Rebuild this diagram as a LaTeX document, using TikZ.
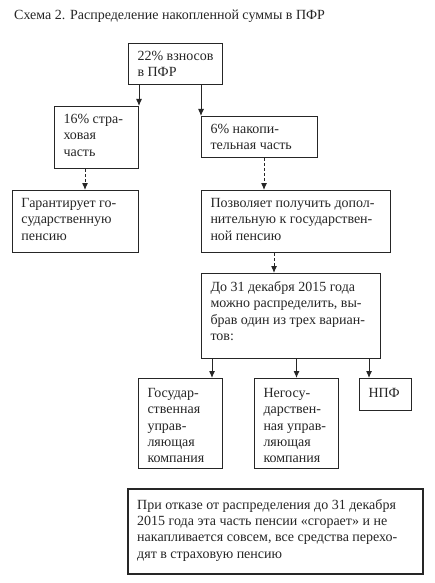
\documentclass[tikz,border=0pt]{standalone}
\usepackage{fontspec}
\setmainfont{Liberation Serif}
\usetikzlibrary{arrows.meta}
\newcommand\bx[4]{\parbox[c][#2pt][t]{#1pt}{\raggedright\leftskip=9pt\relax\vspace*{\dimexpr#3pt-\ht\strutbox\relax}\strut #4}}
\begin{document}
\begin{tikzpicture}[x=1pt,y=-1pt,
  every node/.style={font=\fontsize{14}{16.3}\selectfont, text=black!85},
  box/.style={draw=black!85, line width=1pt, inner sep=0pt, anchor=north west},
  thickbox/.style={box, line width=2.4pt},
  arr/.style={draw=black!85, line width=1pt, -{Latex[length=7pt,width=6pt]}},
  darr/.style={arr, dash pattern=on 3pt off 2pt}]
\useasboundingbox (0,0) rectangle (434,583);
\fill[white] (0,0) rectangle (434,583);
\node[anchor=base west, inner sep=0pt] (title) at (14,20) {Схема 2. Распределение накопленной суммы в ПФР};
\node[box] (b1) at (128,43) {\bx{94}{41}{17}{22\% взносов\\в ПФР}};
\node[box] (b2) at (54,106) {\bx{84}{62}{17}{16\% стра-\\ховая\\часть}};
\node[box] (b3) at (201,116) {\bx{116}{41}{17}{6\% накопи-\\тельная часть}};
\node[box] (b4) at (12,190) {\bx{126}{62}{17}{Гарантирует го-\\сударственную\\пенсию}};
\node[box] (b5) at (201,190) {\bx{189}{62}{17}{Позволяет получить допол-\\нительную к государствен-\\ной пенсию}};
\node[box] (b6) at (201,273) {\bx{179}{85}{18}{До 31 декабря 2015 года\\можно распределить, вы-\\брав один из трех вариан-\\тов:}};
\node[box] (b7) at (138,378) {\bx{84}{90}{19}{Государ-\\ственная\\управ-\\ляющая\\компания}};
\node[box] (b8) at (254,378) {\bx{84}{90}{19}{Негосу-\\дарствен-\\ная управ-\\ляющая\\компания}};
\node[box] (b9) at (359,378) {\bx{52}{32}{19}{НПФ}};
\node[thickbox] (b10) at (127,488) {\bx{295}{85}{20}{При отказе от распределения до 31 декабря\\2015 года эта часть пенсии «сгорает» и не\\накапливается совсем, все средства перехо-\\дят в страховую пенсию}};
\draw[arr] (b2.north east |- b1.south) -- (b2.north east);
\draw[arr] (b3.north west |- b1.south) -- (b3.north west);
\draw[darr] ([xshift=31pt]b2.south west) -- ([xshift=31pt]b2.south west |- b4.north);
\draw[darr] ([xshift=63pt]b3.south west) -- ([xshift=63pt]b3.south west |- b5.north);
\draw[darr] ([xshift=73pt]b5.south west) -- ([xshift=73pt]b5.south west |- b6.north);
\draw[arr] ([xshift=-11pt]b7.north east |- b6.south) -- ([xshift=-11pt]b7.north east);
\draw[arr] (b8.north |- b6.south) -- (b8.north);
\draw[arr] ([xshift=10pt]b9.north west |- b6.south) -- ([xshift=10pt]b9.north west);
\end{tikzpicture}
\end{document}
